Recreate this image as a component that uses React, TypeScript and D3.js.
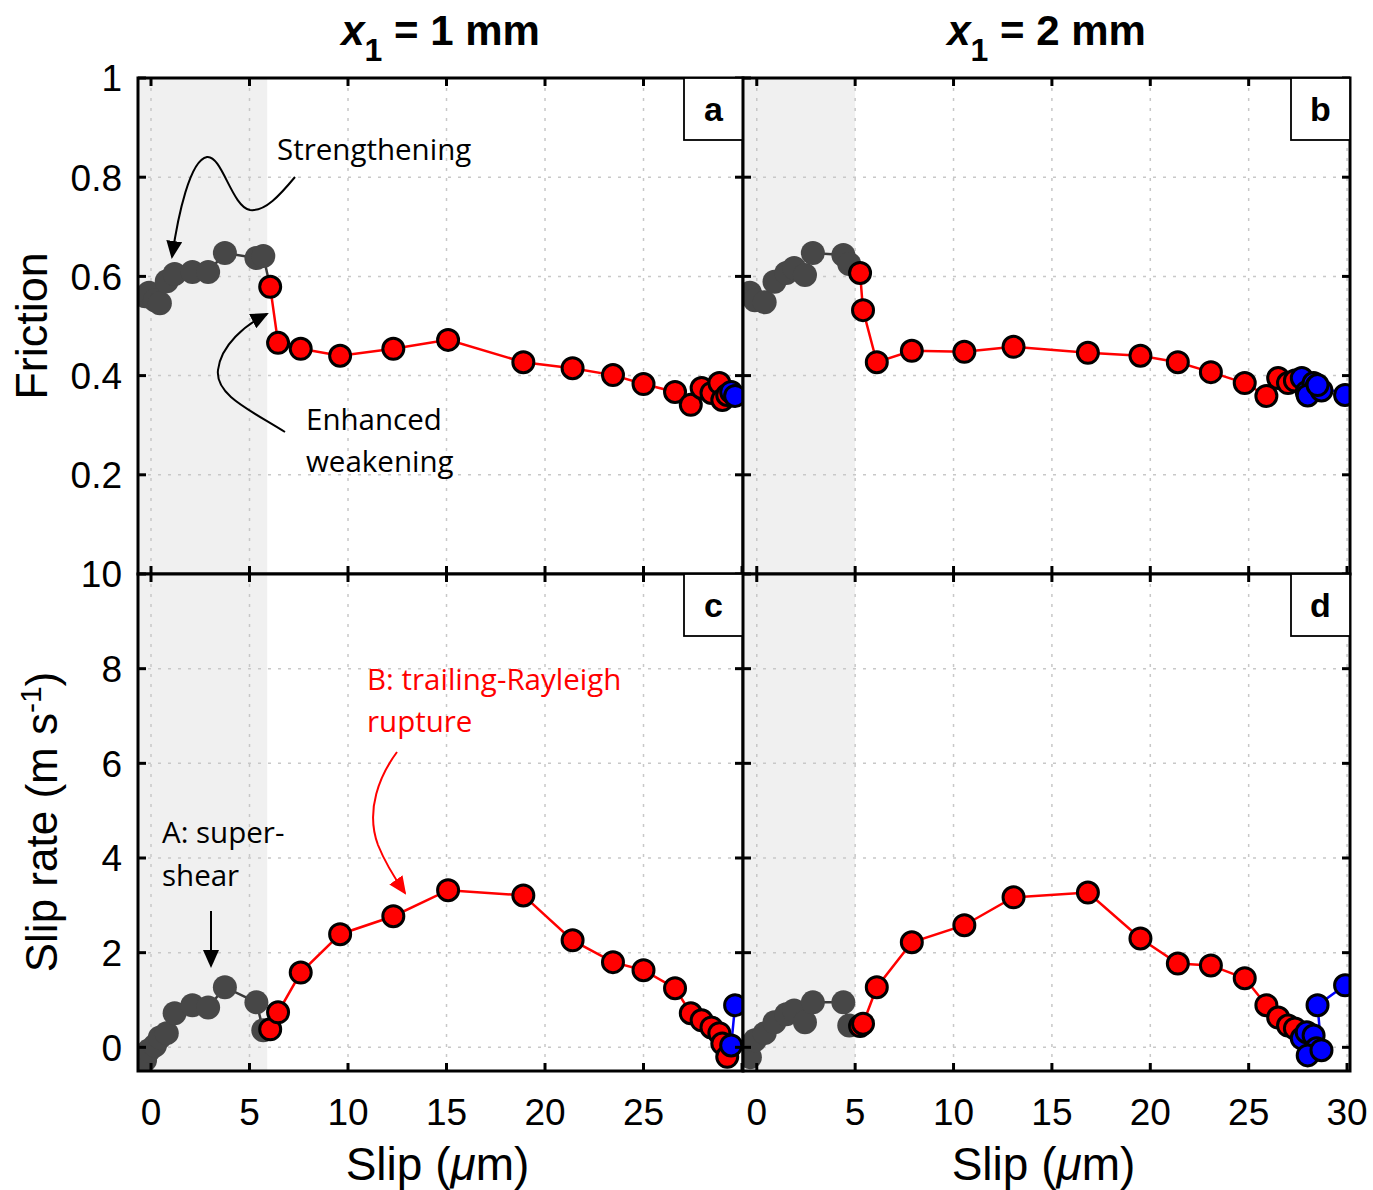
import React from "react";
import * as d3 from "d3";

// ---------- Data ----------
// x1 = 1 mm
const slip1Grey = [-0.3, -0.1, 0.2, 0.45, 0.8, 1.2, 2.1, 2.9, 3.75, 5.35, 5.7];
const fric1Grey = [0.56, 0.567, 0.552, 0.546, 0.59, 0.605, 0.609, 0.609, 0.647, 0.637, 0.641];
const rate1Grey = [-0.27, -0.06, 0.04, 0.21, 0.3, 0.72, 0.89, 0.84, 1.27, 0.95, 0.36];

const slip1Red = [6.05, 6.45, 7.6, 9.6, 12.3, 15.08, 18.9, 21.4, 23.45, 25.0, 26.6, 27.4, 27.95, 28.45, 28.85, 29.0, 29.25];
const fric1Red = [0.579, 0.466, 0.454, 0.44, 0.454, 0.472, 0.427, 0.415, 0.401, 0.383, 0.367, 0.341, 0.375, 0.365, 0.385, 0.351, 0.361];
const rate1Red = [0.38, 0.74, 1.58, 2.39, 2.77, 3.32, 3.21, 2.26, 1.8, 1.63, 1.25, 0.72, 0.57, 0.42, 0.3, 0.08, -0.2];

const slip1Blue = [29.45, 29.65];
const fric1Blue = [0.367, 0.359];
const rate1Blue = [0.04, 0.89];

// x1 = 2 mm
const slip2Grey = [-0.35, -0.1, 0.4, 0.9, 1.5, 1.9, 2.45, 2.85, 4.4, 4.7];
const fric2Grey = [0.567, 0.552, 0.548, 0.589, 0.607, 0.617, 0.603, 0.647, 0.643, 0.625];
const rate2Grey = [-0.21, 0.15, 0.3, 0.53, 0.7, 0.78, 0.53, 0.95, 0.95, 0.46];

const slip2Red = [5.25, 5.4, 6.1, 7.88, 10.55, 13.05, 16.83, 19.5, 21.4, 23.08, 24.8, 25.9, 26.5, 27.0, 27.35];
const fric2Red = [0.607, 0.532, 0.427, 0.45, 0.448, 0.458, 0.446, 0.44, 0.427, 0.407, 0.385, 0.359, 0.395, 0.385, 0.39];
const rate2Red = [0.45, 0.5, 1.27, 2.22, 2.58, 3.17, 3.27, 2.3, 1.77, 1.73, 1.46, 0.89, 0.63, 0.46, 0.4];

const slip2Blue = [27.7, 27.95, 28.3, 28.45, 28.0, 28.7, 28.5, 29.9];
const fric2Blue = [0.395, 0.367, 0.385, 0.378, 0.36, 0.37, 0.381, 0.361];
const rate2Blue = [0.19, 0.32, 0.25, -0.02, -0.17, -0.06, 0.89, 1.31];

const xTicks = [0, 5, 10, 15, 20, 25, 30];
const xTickLabelsA = ["0", "5", "10", "15", "20", "25", ""];
const xTickLabelsB = ["0", "5", "10", "15", "20", "25", "30"];
const fricTicks = [0.2, 0.4, 0.6, 0.8, 1];
const fricTickLabels = ["0.2", "0.4", "0.6", "0.8", "1"];
const rateTicks = [0, 2, 4, 6, 8, 10];
const rateTickLabels = ["0", "2", "4", "6", "8", "10"];

const shade1 = 5.9;
const shade2 = 5.0;

// ---------- Layout ----------
const W = 1373, H = 1190;
const colA = [138, 743], colB = [743, 1350];
const rowTop = [78, 574], rowBot = [574, 1071];

const xA = d3.scaleLinear().domain([-0.66, 30.05]).range(colA);
const xB = d3.scaleLinear().domain([-0.7, 30.15]).range(colB);
const yF = d3.scaleLinear().domain([0, 1]).range([rowTop[1], rowTop[0]]);
const yS = d3.scaleLinear().domain([-0.5, 10]).range([rowBot[1], rowBot[0]]);

const GREY = "#474747";
const tickFont = "'Liberation Sans', Arial, sans-serif";
const annFont = "'Open Sans', 'Noto Sans', sans-serif";

type Pt = [number, number];
const zip = (xs: number[], ys: number[]): Pt[] => xs.map((x, i) => [x, ys[i]]);

function Panel(props: {
  x: d3.ScaleLinear<number, number>;
  y: d3.ScaleLinear<number, number>;
  yTicks: number[];
  shade: number;
  grey: Pt[];
  red: Pt[];
  blue: Pt[];
  letter: string;
  xTickVals: number[];
}) {
  const { x, y, yTicks, shade, grey, red, blue, letter, xTickVals } = props;
  const [x0, x1] = x.range();
  const [y1, y0] = y.range(); // y1 bottom, y0 top
  const line = d3.line<Pt>().x((d) => x(d[0])).y((d) => y(d[1]));
  const greyLine = [...grey, red[0]];
  const blueLine = [red[red.length - 1], ...blue];
  const clipId = "clip" + letter;
  const gridY = yTicks.filter((t) => y(t) > y0 + 2 && y(t) < y1 - 2);
  const gridX = xTickVals.filter((t) => x(t) > x0 + 2 && x(t) < x1 - 2);
  const tl = 8;
  return (
    <g>
      <defs>
        <clipPath id={clipId}>
          <rect x={x0} y={y0} width={x1 - x0} height={y1 - y0} />
        </clipPath>
      </defs>
      <rect x={x0} y={y0} width={x1 - x0} height={y1 - y0} fill="#fff" />
      <rect x={x0} y={y0} width={x(shade) - x0} height={y1 - y0} fill="#f0f0f0" />
      {gridX.map((t) => (
        <line key={"gx" + t} x1={x(t)} x2={x(t)} y1={y0} y2={y1} stroke="#c8c8c8" strokeWidth={1.5} strokeDasharray="3 7" />
      ))}
      {gridY.map((t) => (
        <line key={"gy" + t} x1={x0} x2={x1} y1={y(t)} y2={y(t)} stroke="#c8c8c8" strokeWidth={1.5} strokeDasharray="3 7" />
      ))}
      <g clipPath={`url(#${clipId})`}>
        <path d={line(greyLine) || ""} fill="none" stroke="#3a3a3a" strokeWidth={2.5} />
        {grey.map((d, i) => (
          <circle key={"g" + i} cx={x(d[0])} cy={y(d[1])} r={12} fill={GREY} />
        ))}
        <path d={line(red) || ""} fill="none" stroke="#ff0000" strokeWidth={2.5} />
        <path d={line(blueLine) || ""} fill="none" stroke="#0000ff" strokeWidth={2.5} />
        {red.map((d, i) => (
          <circle key={"r" + i} cx={x(d[0])} cy={y(d[1])} r={10.5} fill="#ff0000" stroke="#000" strokeWidth={3} />
        ))}
        {blue.map((d, i) => (
          <circle key={"b" + i} cx={x(d[0])} cy={y(d[1])} r={10.5} fill="#0000ff" stroke="#000" strokeWidth={3} />
        ))}
      </g>
      {/* ticks */}
      {xTickVals.filter((t) => x(t) >= x0 && x(t) <= x1).map((t) => (
        <g key={"tx" + t}>
          <line x1={x(t)} x2={x(t)} y1={y1} y2={y1 - tl} stroke="#000" strokeWidth={3} />
          <line x1={x(t)} x2={x(t)} y1={y0} y2={y0 + tl} stroke="#000" strokeWidth={3} />
        </g>
      ))}
      {yTicks.filter((t) => y(t) >= y0 && y(t) <= y1).map((t) => (
        <g key={"ty" + t}>
          <line x1={x0} x2={x0 + tl} y1={y(t)} y2={y(t)} stroke="#000" strokeWidth={3} />
          <line x1={x1} x2={x1 - tl} y1={y(t)} y2={y(t)} stroke="#000" strokeWidth={3} />
        </g>
      ))}
      <rect x={x0} y={y0} width={x1 - x0} height={y1 - y0} fill="none" stroke="#000" strokeWidth={3} />
      {/* letter box */}
      <rect x={x1 - 59} y={y0} width={59} height={62} fill="#fff" stroke="#000" strokeWidth={1.8} />
      <text x={x1 - 29.5} y={y0 + 43} textAnchor="middle" fontFamily={tickFont} fontWeight="bold" fontSize={34}>
        {letter}
      </text>
    </g>
  );
}

export default function App() {
  const arrowPath = (
    <>
      <marker id="ahBlack" markerUnits="userSpaceOnUse" markerWidth={18} markerHeight={16} refX={16} refY={8} orient="auto">
        <path d="M0,0 L18,8 L0,16 Z" fill="#000" />
      </marker>
      <marker id="ahRed" markerUnits="userSpaceOnUse" markerWidth={18} markerHeight={16} refX={16} refY={8} orient="auto">
        <path d="M0,0 L18,8 L0,16 Z" fill="#ff0000" />
      </marker>
    </>
  );
  return (
    <svg width={W} height={H} style={{ display: "block", position: "absolute", left: 0, top: 0 }}>
      <defs>{arrowPath}</defs>
      <rect width={W} height={H} fill="#fff" />
      <Panel x={xA} y={yF} yTicks={fricTicks} shade={shade1} grey={zip(slip1Grey, fric1Grey)} red={zip(slip1Red, fric1Red)} blue={zip(slip1Blue, fric1Blue)} letter="a" xTickVals={xTicks} />
      <Panel x={xB} y={yF} yTicks={fricTicks} shade={shade2} grey={zip(slip2Grey, fric2Grey)} red={zip(slip2Red, fric2Red)} blue={zip(slip2Blue, fric2Blue)} letter="b" xTickVals={xTicks} />
      <Panel x={xA} y={yS} yTicks={rateTicks} shade={shade1} grey={zip(slip1Grey, rate1Grey)} red={zip(slip1Red, rate1Red)} blue={zip(slip1Blue, rate1Blue)} letter="c" xTickVals={xTicks} />
      <Panel x={xB} y={yS} yTicks={rateTicks} shade={shade2} grey={zip(slip2Grey, rate2Grey)} red={zip(slip2Red, rate2Red)} blue={zip(slip2Blue, rate2Blue)} letter="d" xTickVals={xTicks} />

      {/* y tick labels */}
      {fricTicks.map((t, i) => (
        <text key={"fl" + t} x={122} y={yF(t)} dy="0.36em" textAnchor="end" fontFamily={tickFont} fontSize={37}>
          {fricTickLabels[i]}
        </text>
      ))}
      {rateTicks.map((t, i) => (
        <text key={"rl" + t} x={122} y={yS(t)} dy="0.36em" textAnchor="end" fontFamily={tickFont} fontSize={37}>
          {rateTickLabels[i]}
        </text>
      ))}
      {/* x tick labels */}
      {xTicks.map((t, i) => (
        <text key={"xa" + t} x={xA(t)} y={1125} textAnchor="middle" fontFamily={tickFont} fontSize={37}>
          {xTickLabelsA[i]}
        </text>
      ))}
      {xTicks.map((t, i) => (
        <text key={"xb" + t} x={xB(t)} y={1125} textAnchor="middle" fontFamily={tickFont} fontSize={37}>
          {xTickLabelsB[i]}
        </text>
      ))}
      {/* axis labels */}
      {[xA, xB].map((s, i) => (
        <text key={"xl" + i} x={(s.range()[0] + s.range()[1]) / 2 - 3} y={1180} textAnchor="middle" fontFamily={tickFont} fontSize={46}>
          Slip (<tspan fontStyle="italic">μ</tspan>m)
        </text>
      ))}
      <text transform="translate(47,326) rotate(-90)" textAnchor="middle" fontFamily={tickFont} fontSize={45}>
        Friction
      </text>
      <text transform="translate(57,822) rotate(-90)" textAnchor="middle" fontFamily={tickFont} fontSize={44}>
        Slip rate (m s<tspan dy={-16} fontSize={30}>-1</tspan><tspan dy={16}>)</tspan>
      </text>
      {/* titles */}
      {[
        { s: xA, v: "1" },
        { s: xB, v: "2" },
      ].map((o, i) => (
        <text key={"t" + i} x={(o.s.range()[0] + o.s.range()[1]) / 2} y={45} textAnchor="middle" fontFamily={tickFont} fontWeight="bold" fontSize={42}>
          <tspan fontStyle="italic">x</tspan>
          <tspan dy={16} fontSize={32}>1</tspan>
          <tspan dy={-16}> = {o.v} mm</tspan>
        </text>
      ))}

      {/* annotations */}
      <text x={277} y={160} fontFamily={annFont} fontSize={29.5}>Strengthening</text>
      <path d="M295,177 C280,195 265,212 250,210 C232,207 222,155 207,157 C190,160 178,215 172,257" fill="none" stroke="#000" strokeWidth={2} markerEnd="url(#ahBlack)" />
      <text x={306} y={430} fontFamily={annFont} fontSize={29.5}>Enhanced</text>
      <text x={306} y={472} fontFamily={annFont} fontSize={29.5}>weakening</text>
      <path d="M285,432 C250,410 215,395 218,370 C221,345 245,325 267,314" fill="none" stroke="#000" strokeWidth={2} markerEnd="url(#ahBlack)" />
      <text x={162} y={843} fontFamily={annFont} fontSize={29.5}>A: super-</text>
      <text x={162} y={886} fontFamily={annFont} fontSize={29.5}>shear</text>
      <path d="M211,911 L211,966" fill="none" stroke="#000" strokeWidth={2} markerEnd="url(#ahBlack)" />
      <text x={367} y={690} fontFamily={annFont} fontSize={29.5} fill="#ff0000">B: trailing-Rayleigh</text>
      <text x={367} y={732} fontFamily={annFont} fontSize={29.5} fill="#ff0000">rupture</text>
      <path d="M397,752 C380,775 365,810 378,845 C386,865 396,880 405,893" fill="none" stroke="#ff0000" strokeWidth={2} markerEnd="url(#ahRed)" />
    </svg>
  );
}
